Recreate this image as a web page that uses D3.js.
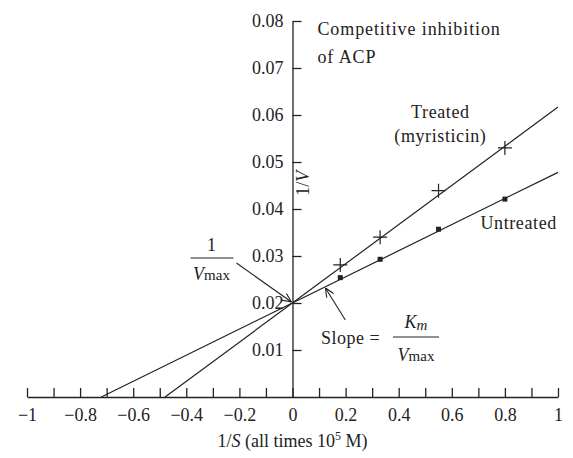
<!DOCTYPE html>
<html>
<head>
<meta charset="utf-8">
<script src="https://cdn.jsdelivr.net/npm/d3@7"></script>
<style>
  body { margin: 0; background: #fff; }
  svg { display: block; }
  text { font-family: "Liberation Serif", "Times New Roman", serif; fill: #222; }
</style>
</head>
<body>
<div id="chart"></div>
<script>
// substrate values (1/S) and the two series (1/V)
var xVals = [0.18, 0.33, 0.55, 0.80];
var untreated = [0.0254, 0.0293, 0.0357, 0.0421];
var treated = [0.0281, 0.0340, 0.0439, 0.0530];
// fitted lines, from x-axis crossing to x = 1
var untreatedLine = [[-0.72, 0], [1, 0.0478]];
var treatedLine = [[-0.48, 0], [1, 0.0617]];
var xLabels = [-1, -0.8, -0.6, -0.4, -0.2, 0, 0.2, 0.4, 0.6, 0.8, 1];
var xMinor = d3.range(-10, 11).map(function(i){ return i / 10; });
var yLabels = [0.01, 0.02, 0.03, 0.04, 0.05, 0.06, 0.07, 0.08];

var W = 573, H = 458;
var fs = 18;

var svg = d3.select('#chart').append('svg')
        .attr('width', W)
        .attr('height', H);

var x = d3.scaleLinear().domain([-1, 1]).range([27, 558]);
var y = d3.scaleLinear().domain([0, 0.08]).range([397, 21]);

svg.append('defs').append('marker')
        .attr('id', 'head')
        .attr('viewBox', '0 0 10 10')
        .attr('refX', 10).attr('refY', 5)
        .attr('markerWidth', 10).attr('markerHeight', 10)
        .attr('markerUnits', 'userSpaceOnUse')
        .attr('orient', 'auto')
    .append('path')
        .attr('d', 'M1,1L10,5L1,9')
        .attr('fill', 'none')
        .attr('stroke', '#222')
        .attr('stroke-width', 1.1);

// x axis: minor ticks pointing up, labels below
var xTickAxis = d3.axisBottom(x).tickValues(xMinor).tickSizeInner(-9).tickSizeOuter(0).tickFormat('');
var xg = svg.append('g').attr('transform', 'translate(0,' + y(0) + ')').call(xTickAxis);
var xLabAxis = d3.axisBottom(x).tickValues(xLabels).tickSize(0).tickPadding(11)
        .tickFormat(d3.format(''));
var xl = svg.append('g').attr('transform', 'translate(0,' + y(0) + ')').call(xLabAxis);
xl.select('.domain').remove();

// y axis: ticks pointing right, labels on the left
var yAxis = d3.axisLeft(y).tickValues(yLabels).tickSizeInner(-9).tickSizeOuter(0)
        .tickPadding(9).tickFormat(d3.format('.2f'));
var yg = svg.append('g').attr('transform', 'translate(' + x(0) + ',0)').call(yAxis);

[xg, xl, yg].forEach(function(g){
        g.attr('font-family', null);
        g.selectAll('path, line').attr('stroke', '#222').attr('stroke-width', 1.3);
        g.selectAll('text').attr('font-size', fs).attr('fill', '#222');
});

// fitted lines
var line = d3.line().x(function(d){ return x(d[0]); }).y(function(d){ return y(d[1]); });
[untreatedLine, treatedLine].forEach(function(l){
        svg.append('path').attr('d', line(l))
                .attr('fill', 'none').attr('stroke', '#222').attr('stroke-width', 1.2);
});

// untreated: small filled squares
svg.selectAll('rect.unt').data(xVals).enter().append('rect')
        .attr('class', 'unt')
        .attr('x', function(d){ return x(d) - 2.5; })
        .attr('y', function(d, i){ return y(untreated[i]) - 2.5; })
        .attr('width', 5).attr('height', 5)
        .attr('fill', '#222');

// treated: plus signs
svg.selectAll('path.trt').data(xVals).enter().append('path')
        .attr('class', 'trt')
        .attr('d', function(d, i){
                var cx = x(d), cy = y(treated[i]), r = 7;
                return 'M' + (cx - r) + ',' + cy + 'H' + (cx + r) + 'M' + cx + ',' + (cy - r) + 'V' + (cy + r);
        })
        .attr('stroke', '#222').attr('stroke-width', 1.2).attr('fill', 'none');

// labels
function txt(t, px, py, anchor){
        return svg.append('text').attr('x', px).attr('y', py)
                .attr('font-size', fs).attr('text-anchor', anchor || 'start').text(t);
}
txt('Competitive inhibition', x(0.094), y(0.077)).attr('letter-spacing', 0.9);
txt('of ACP', x(0.094), y(0.0711)).attr('letter-spacing', 0.9);
txt('Treated', x(0.557), y(0.0594), 'middle').attr('letter-spacing', 0.6);
txt('(myristicin)', x(0.557), y(0.0543), 'middle').attr('letter-spacing', 0.6);
txt('Untreated', x(0.708), y(0.0357)).attr('letter-spacing', 0.6);

// y label
svg.append('text')
        .attr('transform', 'translate(' + (x(0) + 16) + ',' + y(0.0455) + ') rotate(-90)')
        .attr('text-anchor', 'middle').attr('font-size', fs)
        .html('1/<tspan font-style="italic">V</tspan>');

// x label
svg.append('text')
        .attr('x', x(0)).attr('y', 447)
        .attr('text-anchor', 'middle').attr('font-size', fs)
        .html('1/<tspan font-style="italic">S</tspan> (all times 10<tspan font-size="12" dy="-7">5</tspan><tspan dy="7"> M)</tspan>');

// 1/Vmax fraction and arrow
var fx = x(-0.305);
svg.append('text').attr('x', fx).attr('y', 251).attr('text-anchor', 'middle').attr('font-size', fs).text('1');
svg.append('line').attr('x1', fx - 21).attr('x2', fx + 22).attr('y1', 258).attr('y2', 258)
        .attr('stroke', '#222').attr('stroke-width', 1.1);
svg.append('text').attr('x', fx).attr('y', 280).attr('text-anchor', 'middle').attr('font-size', fs)
        .html('<tspan font-style="italic">V</tspan><tspan font-size="15">max</tspan>');
svg.append('path').attr('d', line([[-0.211, 0.0285], [-0.004, 0.0202]]))
        .attr('stroke', '#222').attr('stroke-width', 1.1).attr('fill', 'none')
        .attr('marker-end', 'url(#head)');

// slope annotation and arrow
svg.append('path').attr('d', line([[0.199, 0.0164], [0.124, 0.0232]]))
        .attr('stroke', '#222').attr('stroke-width', 1.1).attr('fill', 'none')
        .attr('marker-end', 'url(#head)');
txt('Slope =', 321, 344).attr('letter-spacing', 0.5);
var sx = 416;
svg.append('text').attr('x', sx).attr('y', 328).attr('text-anchor', 'middle').attr('font-size', fs)
        .html('<tspan font-style="italic">K</tspan><tspan font-style="italic" font-size="15" dy="2">m</tspan>');
svg.append('line').attr('x1', sx - 23).attr('x2', sx + 23).attr('y1', 337).attr('y2', 337)
        .attr('stroke', '#222').attr('stroke-width', 1.1);
svg.append('text').attr('x', sx).attr('y', 361).attr('text-anchor', 'middle').attr('font-size', fs)
        .html('<tspan font-style="italic">V</tspan><tspan font-size="15">max</tspan>');
</script>
</body>
</html>
